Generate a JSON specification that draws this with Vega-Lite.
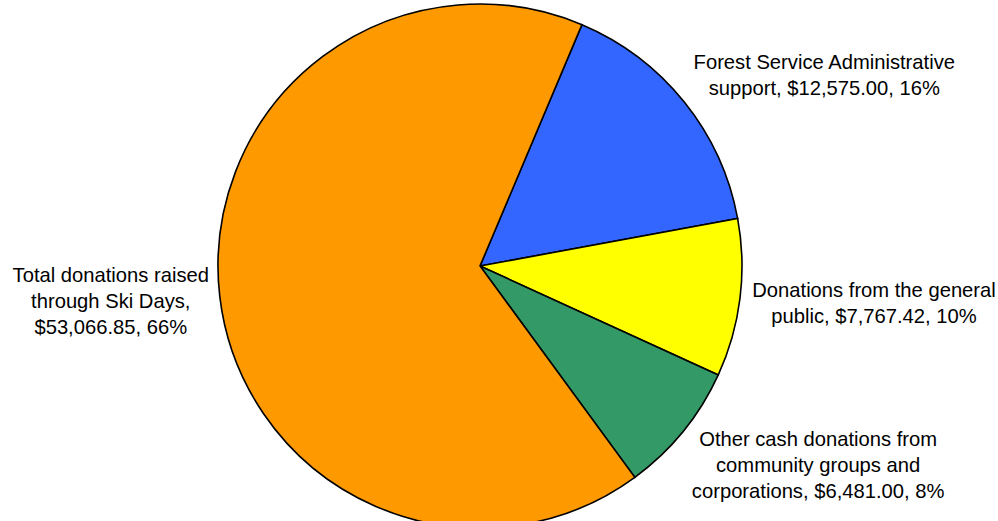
{
  "$schema": "https://vega.github.io/schema/vega-lite/v6.json",
  "width": 960,
  "height": 530,
  "padding": 0,
  "background": "white",
  "view": {"stroke": null},
  "data": {
    "values": [
      {"idx": 1, "category": "Forest Service Administrative support", "value": 12575.00, "label": "Forest Service Administrative\nsupport, $12,575.00, 16%"},
      {"idx": 2, "category": "Donations from the general public", "value": 7767.42, "label": "Donations from the general\npublic, $7,767.42, 10%"},
      {"idx": 3, "category": "Other cash donations from community groups and corporations", "value": 6481.00, "label": "Other cash donations from\ncommunity groups and\ncorporations, $6,481.00, 8%"},
      {"idx": 4, "category": "Total donations raised through Ski Days", "value": 53066.85, "label": "Total donations raised\nthrough Ski Days,\n$53,066.85, 66%"}
    ]
  },
  "encoding": {
    "theta": {"field": "value", "type": "quantitative", "stack": true, "scale": {"range": [0.3997, 6.6829]}},
    "order": {"field": "idx", "type": "quantitative"}
  },
  "layer": [
    {
      "mark": {"type": "arc", "radius": 262, "stroke": "black", "strokeWidth": 1.6},
      "encoding": {
        "color": {
          "field": "category", "type": "nominal", "legend": null,
          "scale": {
            "domain": ["Forest Service Administrative support", "Donations from the general public", "Other cash donations from community groups and corporations", "Total donations raised through Ski Days"],
            "range": ["#3366FF", "#FFFF00", "#339966", "#FF9900"]
          }
        }
      }
    },
    {
      "mark": {
        "type": "text", "radius": 262, "font": "Liberation Sans", "fontSize": 20.2, "lineHeight": 26,
        "lineBreak": "\n", "align": "center", "baseline": "middle", "color": "black",
        "dx": {"expr": "datum.idx == 1 ? 140 : datum.idx == 2 ? 134 : datum.idx == 3 ? 135 : -109"},
        "dy": {"expr": "datum.idx == 1 ? -39 : datum.idx == 2 ? -7 : datum.idx == 3 ? 9 : -20"}
      },
      "encoding": {
        "text": {"field": "label", "type": "nominal"}
      }
    }
  ]
}
